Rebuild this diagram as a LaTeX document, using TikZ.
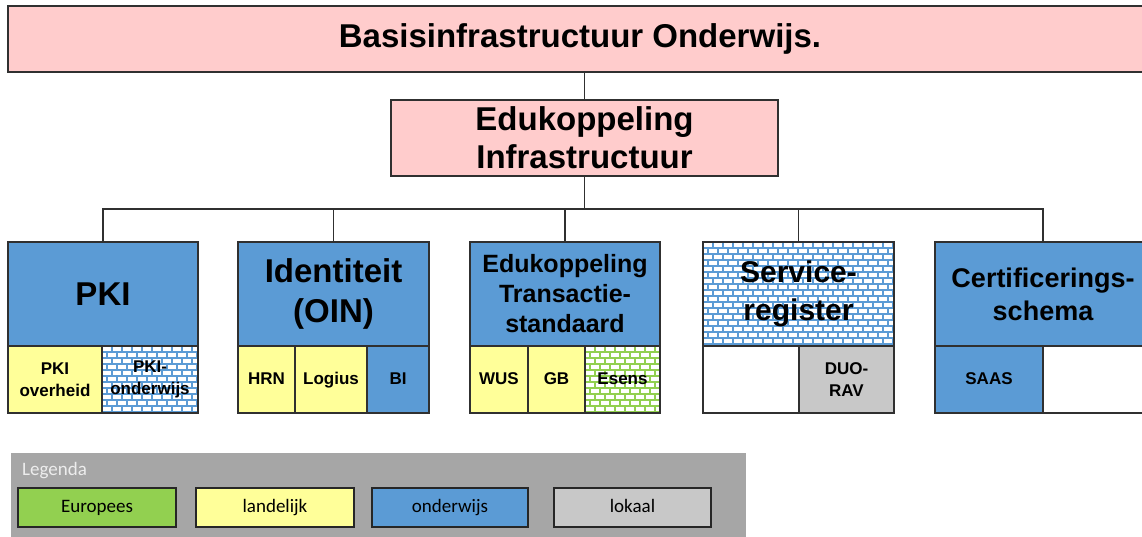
\documentclass[tikz,border=0pt]{standalone}
\usepackage{fontspec}
\setmainfont{Liberation Sans}
\newfontfamily\calibri{Carlito}
\definecolor{pinkc}{HTML}{FFCCCC}
\definecolor{bluec}{HTML}{5B9BD5}
\definecolor{yellowc}{HTML}{FFFF99}
\definecolor{grayc}{HTML}{C8C8C8}
\definecolor{greenc}{HTML}{92D050}
\definecolor{leggray}{HTML}{A6A6A6}
\definecolor{linec}{HTML}{303030}
\newcommand{\brickfill}[5]{%
\begin{scope}
\clip (#1,#2) rectangle (#3,#4);
\fill[white] (#1,#2) rectangle (#3,#4);
\foreach \r in {0,...,18}{
  \draw[#5,line width=1.6pt] (#1,#2+\r*6) -- (#3,#2+\r*6);
  \pgfmathsetmacro\off{mod(\r,2)*5}
  \foreach \k in {0,...,23}{
    \draw[#5,line width=1.6pt] (#1+\off+\k*10,#2+\r*6) -- ++(0,6);
  }
}
\end{scope}}
\begin{document}
\begin{tikzpicture}[x=1pt,y=-1pt,
  box/.style={draw=linec, line width=1.5pt, inner sep=0pt, outer sep=0pt, align=center, anchor=north west},
  big/.style={font=\bfseries\fontsize{33pt}{40pt}\selectfont},
  mid/.style={font=\bfseries\fontsize{25pt}{30pt}\selectfont},
  small/.style={font=\bfseries\fontsize{17pt}{22pt}\selectfont},
  one/.style={text height=12.5pt, text depth=3.5pt},
  legbox/.style={draw=black!85, line width=1.5pt, inner sep=0pt, outer sep=0pt, anchor=north west, minimum height=39pt, text height=13pt, text depth=4pt, font=\calibri\fontsize{19pt}{22pt}\selectfont},
  conn/.style={draw=linec, line width=1.5pt}]
\useasboundingbox (0,0) rectangle (1142,537);

% top levels
\node[box, big, fill=pinkc, minimum width=1144pt, minimum height=66pt] (top) at (8,6) {Basisinfrastructuur Onderwijs.};
\node[box, big, fill=pinkc, minimum width=387pt, minimum height=76pt, font=\bfseries\fontsize{33pt}{38pt}\selectfont] (edu) at (391,100) {Edukoppeling\\Infrastructuur};

% brick backgrounds
\brickfill{703}{242}{894}{346}{bluec}
\brickfill{102}{346}{198}{413}{bluec}
\brickfill{585}{346}{660}{413}{greenc}

% main boxes
\node[box, big, fill=bluec, minimum width=190pt, minimum height=104pt] (pki) at (8,242) {PKI};
\node[box, big, fill=bluec, minimum width=191pt, minimum height=104pt] (id) at (238,242) {Identiteit\\(OIN)};
\node[box, mid, fill=bluec, minimum width=190pt, minimum height=104pt] (et) at (470,242) {Edukoppeling\\Transactie-\\standaard};
\node[box, minimum width=191pt, minimum height=104pt, font=\bfseries\fontsize{30pt}{38pt}\selectfont] (sr) at (703,242) {Service-\\register};
\node[box, fill=bluec, minimum width=216pt, minimum height=104pt, font=\bfseries\fontsize{27pt}{33pt}\selectfont] (cs) at (935,242) {Certificerings-\\schema};

% sub boxes
\node[box, small, fill=yellowc, minimum width=94pt, minimum height=67pt] (pkio) at (8,346) {PKI\\overheid};
\node[box, small, minimum width=96pt, minimum height=67pt] (pkiw) at (102,346) {PKI-\\onderwijs};
\node[box, small, one, fill=yellowc, minimum width=57pt, minimum height=67pt] (hrn) at (238,346) {HRN};
\node[box, small, one, fill=yellowc, minimum width=72pt, minimum height=67pt] (logius) at (295,346) {Logius};
\node[box, small, one, fill=bluec, minimum width=62pt, minimum height=67pt] (bi) at (367,346) {BI};
\node[box, small, one, fill=yellowc, minimum width=58pt, minimum height=67pt] (wus) at (470,346) {WUS};
\node[box, small, one, fill=yellowc, minimum width=57pt, minimum height=67pt] (gb) at (528,346) {GB};
\node[box, small, one, minimum width=75pt, minimum height=67pt] (esens) at (585,346) {Esens};
\node[box, small, fill=white, minimum width=96pt, minimum height=67pt] (sre) at (703,346) {};
\node[box, small, fill=grayc, minimum width=95pt, minimum height=67pt] (duo) at (799,346) {DUO-\\RAV};
\node[box, small, one, fill=bluec, minimum width=108pt, minimum height=67pt] (saas) at (935,346) {SAAS};
\node[box, small, fill=white, minimum width=108pt, minimum height=67pt] (cse) at (1043,346) {};

% connectors
\draw[conn] (edu.north) -- (edu.north |- top.south);
\draw[conn] (edu.south) -- ++(0,33) coordinate (bus);
\draw[conn] (pki.north) -- (pki.north |- bus) -- (cs.north |- bus) -- (cs.north);
\draw[conn] (id.north) -- (id.north |- bus);
\draw[conn] (et.north) -- (et.north |- bus);
\draw[conn] (sr.north) -- (sr.north |- bus);

% legend
\fill[leggray] (11,453) rectangle (746,545);
\node[anchor=west, text=white!93!black, font=\calibri\fontsize{19pt}{22pt}\selectfont, inner sep=0pt] (leg) at (22,471) {Legenda};
\node[legbox, fill=greenc, minimum width=158pt] (l1) at (18,488) {Europees};
\node[legbox, fill=yellowc, minimum width=158pt] (l2) at (196,488) {landelijk};
\node[legbox, fill=bluec, minimum width=156pt] (l3) at (372,488) {onderwijs};
\node[legbox, fill=grayc, minimum width=157pt] (l4) at (554,488) {lokaal};
\end{tikzpicture}
\end{document}
